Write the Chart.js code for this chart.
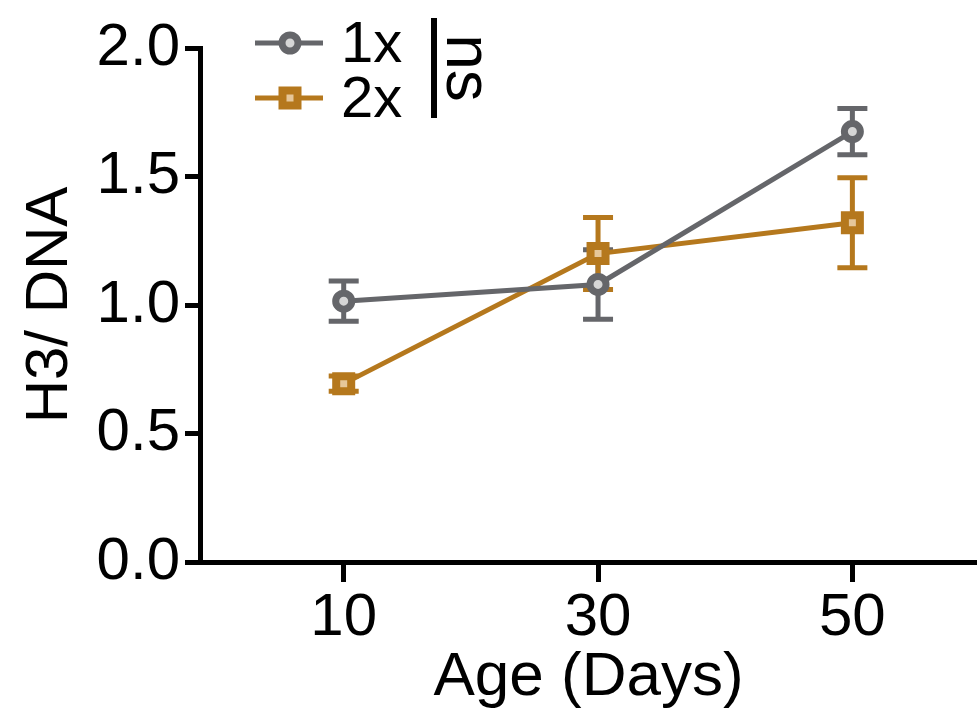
<!DOCTYPE html>
<html><head><meta charset="utf-8">
<script src="https://cdn.jsdelivr.net/npm/chart.js@4/dist/chart.umd.min.js"></script>
<style>html,body{margin:0;padding:0;background:#fff;overflow:hidden}#wrap{width:977px;height:720px}canvas{display:block}</style>
</head><body><div id="wrap"><canvas id="c" width="977" height="720"></canvas></div>
<script>
const ages = [10, 30, 50];
const series1Label = '1x';
const series1Values = [1.015, 1.08, 1.675];
const series1Errors = [0.078, 0.135, 0.09];
const series2Label = '2x';
const series2Values = [0.694, 1.20, 1.32];
const series2Errors = [0.03, 0.14, 0.175];
const yTicks = [0, 0.5, 1.0, 1.5, 2.0];
const xTicks = [10, 30, 50];
const sigLabel = 'ns';

const GRAY = '#65666a';
const ORANGE = '#b5781d';
const GRAY_IN = '#d6d6d6';
const ORANGE_IN = '#e6c79a';
const FONT = "'Liberation Sans', Arial, sans-serif";

const errorBars = {
  id: 'errorBars',
  beforeDatasetsDraw(chart) {
    const ctx = chart.ctx;
    const xs = chart.scales.x, ys = chart.scales.y;
    chart.data.datasets.forEach((ds) => {
      ctx.save();
      ctx.strokeStyle = ds.borderColor;
      ctx.lineWidth = 5;
      ds.data.forEach((p, i) => {
        const e = ds.errors[i];
        const x = xs.getPixelForValue(p.x);
        const y1 = ys.getPixelForValue(p.y + e);
        const y2 = ys.getPixelForValue(p.y - e);
        ctx.beginPath();
        ctx.moveTo(x, y1); ctx.lineTo(x, y2);
        ctx.moveTo(x - 15, y1); ctx.lineTo(x + 15, y1);
        ctx.moveTo(x - 15, y2); ctx.lineTo(x + 15, y2);
        ctx.stroke();
      });
      ctx.restore();
    });
  }
};

const legendPlugin = {
  id: 'customLegend',
  afterDraw(chart) {
    const ctx = chart.ctx;
    ctx.save();
    const items = [
      {label: series1Label, color: GRAY, inner: GRAY_IN, y: 43, shape: 'circle'},
      {label: series2Label, color: ORANGE, inner: ORANGE_IN, y: 98, shape: 'rect'}
    ];
    items.forEach(it => {
      ctx.strokeStyle = it.color;
      ctx.lineWidth = 5;
      ctx.beginPath(); ctx.moveTo(255, it.y); ctx.lineTo(323, it.y); ctx.stroke();
      ctx.fillStyle = it.inner;
      if (it.shape === 'circle') {
        ctx.lineWidth = 7;
        ctx.beginPath(); ctx.arc(290, it.y, 8, 0, Math.PI * 2); ctx.fill(); ctx.stroke();
      } else {
        ctx.lineWidth = 8;
        ctx.fillRect(282.5, it.y - 7.5, 15, 15);
        ctx.strokeRect(282.5, it.y - 7.5, 15, 15);
      }
      ctx.fillStyle = '#000';
      ctx.font = '58px ' + FONT;
      ctx.textBaseline = 'alphabetic';
      ctx.textAlign = 'left';
      ctx.fillText(it.label, 341, it.y + 19);
    });
    ctx.fillStyle = '#000';
    ctx.fillRect(431, 18, 6, 100);
    ctx.translate(447, 68);
    ctx.rotate(Math.PI / 2);
    ctx.font = '64px ' + FONT;
    ctx.textAlign = 'center';
    ctx.textBaseline = 'alphabetic';
    ctx.fillText(sigLabel, 0, 0);
    ctx.restore();
  }
};

new Chart(document.getElementById('c'), {
  type: 'line',
  data: {
    datasets: [
      {label: series1Label, data: ages.map((a, i) => ({x: a, y: series1Values[i]})), errors: series1Errors,
       borderColor: GRAY, backgroundColor: GRAY_IN, borderWidth: 5, pointStyle: 'circle', pointRadius: 8,
       pointBorderWidth: 7, pointBackgroundColor: GRAY_IN, pointBorderColor: GRAY, tension: 0},
      {label: series2Label, data: ages.map((a, i) => ({x: a, y: series2Values[i]})), errors: series2Errors,
       borderColor: ORANGE, backgroundColor: ORANGE_IN, borderWidth: 5, pointStyle: 'rect', pointRadius: 10.6,
       pointBorderWidth: 8, pointBackgroundColor: ORANGE_IN, pointBorderColor: ORANGE, tension: 0}
    ]
  },
  options: {
    responsive: false,
    animation: false,
    layout: {autoPadding: false, padding: {top: 48, right: 0, left: 0, bottom: 0}},
    plugins: {legend: {display: false}, tooltip: {enabled: false}},
    scales: {
      x: {
        type: 'linear', min: -1.3, max: 59.8,
        afterBuildTicks: (s) => { s.ticks = xTicks.map(v => ({value: v})); },
        afterFit: (s) => { s.height = 158; s.paddingRight = 0; s.paddingLeft = 0; },
        grid: {display: true, drawOnChartArea: false, drawTicks: true, tickLength: 20, lineWidth: 5, color: '#000'},
        border: {display: true, width: 5, color: '#000'},
        ticks: {color: '#000', font: {family: FONT, size: 60}, padding: 0, maxRotation: 0, autoSkip: false},
        title: {display: true, text: 'Age (Days)', color: '#000', font: {family: FONT, size: 62}, padding: {top: 0, bottom: 5}}
      },
      y: {
        min: 0, max: 2,
        afterBuildTicks: (s) => { s.ticks = yTicks.map(v => ({value: v})); },
        afterFit: (s) => { s.width = 200; },
        grid: {display: true, drawOnChartArea: false, drawTicks: true, tickLength: 15, lineWidth: 5, color: '#000'},
        border: {display: true, width: 5, color: '#000'},
        ticks: {color: '#000', font: {family: FONT, size: 60}, padding: 5, callback: (v) => Number(v).toFixed(1)},
        title: {display: true, text: 'H3/ DNA', color: '#000', font: {family: FONT, size: 60}, padding: {top: 14, bottom: 0}}
      }
    }
  },
  plugins: [errorBars, legendPlugin]
});
</script></body></html>
